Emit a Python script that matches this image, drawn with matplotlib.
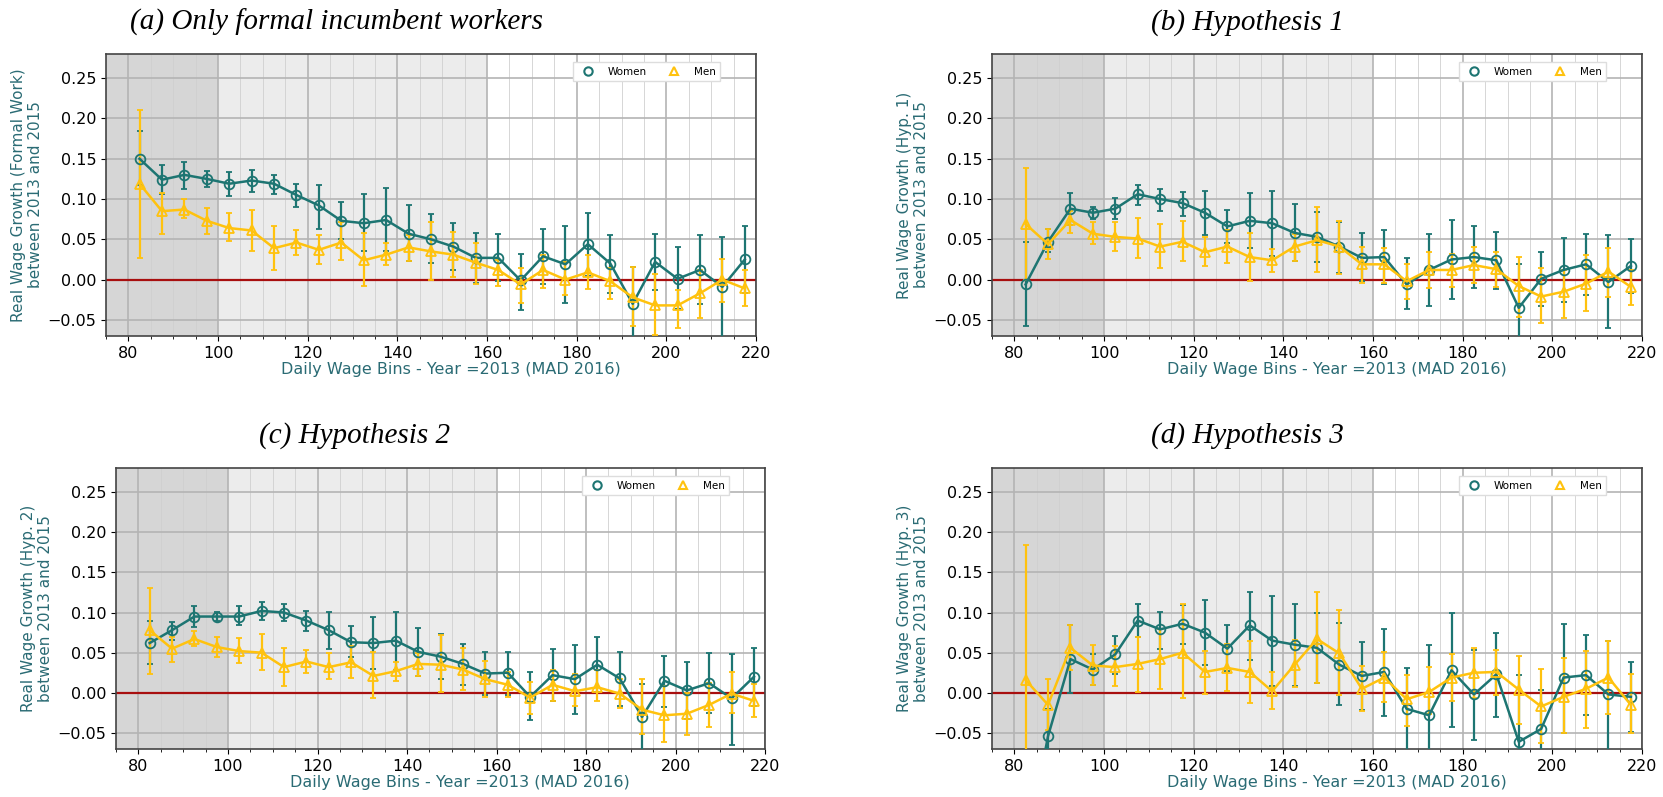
"""Real wage growth by daily wage bin, women vs men, four specifications."""

import numpy as np
import matplotlib.pyplot as plt
from matplotlib.lines import Line2D
from matplotlib.ticker import MultipleLocator

# bin centres (MAD 2016)
bins = [82.5, 87.5, 92.5, 97.5, 102.5, 107.5, 112.5, 117.5, 122.5, 127.5,
        132.5, 137.5, 142.5, 147.5, 152.5, 157.5, 162.5, 167.5, 172.5, 177.5,
        182.5, 187.5, 192.5, 197.5, 202.5, 207.5, 212.5, 217.5]

# (a) formal incumbent workers
a_women = [0.150, 0.124, 0.130, 0.125, 0.119, 0.123, 0.119, 0.105, 0.092, 0.073,
           0.070, 0.074, 0.057, 0.050, 0.041, 0.027, 0.027, -0.001, 0.029, 0.019,
           0.044, 0.020, -0.030, 0.022, 0.001, 0.012, -0.009, 0.025]
a_women_lo = [0.118, 0.106, 0.113, 0.115, 0.104, 0.109, 0.106, 0.090, 0.063, 0.050,
              0.035, 0.035, 0.023, 0.021, 0.012, -0.004, -0.002, -0.038, -0.005, -0.029,
              0.005, -0.016, -0.080, -0.013, -0.037, -0.030, -0.080, -0.017]
a_women_hi = [0.184, 0.142, 0.146, 0.135, 0.134, 0.136, 0.130, 0.119, 0.117, 0.096,
              0.106, 0.114, 0.092, 0.081, 0.070, 0.058, 0.057, 0.032, 0.063, 0.066,
              0.083, 0.056, 0.016, 0.057, 0.040, 0.055, 0.053, 0.067]
a_men = [0.119, 0.085, 0.087, 0.073, 0.064, 0.061, 0.039, 0.046, 0.037, 0.046,
         0.024, 0.031, 0.040, 0.035, 0.031, 0.021, 0.012, -0.006, 0.012, 0.000,
         0.009, -0.002, -0.022, -0.032, -0.032, -0.017, 0.000, -0.011]
a_men_lo = [0.027, 0.057, 0.076, 0.057, 0.048, 0.036, 0.012, 0.030, 0.019, 0.024,
            -0.008, 0.018, 0.023, 0.000, 0.003, -0.005, -0.008, -0.029, -0.011, -0.019,
            -0.012, -0.024, -0.058, -0.069, -0.060, -0.048, -0.028, -0.033]
a_men_hi = [0.211, 0.107, 0.100, 0.089, 0.083, 0.087, 0.066, 0.061, 0.056, 0.071,
            0.058, 0.045, 0.055, 0.072, 0.059, 0.046, 0.024, 0.015, 0.030, 0.022,
            0.030, 0.014, 0.016, 0.007, -0.013, 0.012, 0.026, 0.012]

# (b) hypothesis 1
b_women = [-0.006, 0.047, 0.088, 0.083, 0.088, 0.106, 0.100, 0.095, 0.083, 0.066,
           0.073, 0.070, 0.058, 0.053, 0.041, 0.027, 0.028, -0.006, 0.012, 0.025,
           0.028, 0.024, -0.035, 0.001, 0.012, 0.019, -0.003, 0.017]
b_women_lo = [-0.058, 0.034, 0.068, 0.075, 0.075, 0.093, 0.085, 0.079, 0.055, 0.045,
              0.039, 0.029, 0.023, 0.022, 0.008, -0.002, -0.005, -0.036, -0.033, -0.024,
              -0.010, -0.012, -0.090, -0.033, -0.028, -0.019, -0.060, -0.017]
b_women_hi = [0.047, 0.063, 0.108, 0.090, 0.101, 0.117, 0.112, 0.109, 0.110, 0.087,
              0.108, 0.110, 0.094, 0.084, 0.072, 0.058, 0.062, 0.027, 0.057, 0.074,
              0.067, 0.059, 0.019, 0.034, 0.052, 0.057, 0.056, 0.051]
b_men = [0.069, 0.044, 0.074, 0.057, 0.053, 0.051, 0.041, 0.047, 0.034, 0.041,
         0.028, 0.024, 0.041, 0.049, 0.041, 0.019, 0.019, -0.002, 0.012, 0.012,
         0.018, 0.013, -0.008, -0.021, -0.015, -0.005, 0.010, -0.009]
b_men_lo = [-0.001, 0.025, 0.058, 0.044, 0.036, 0.027, 0.015, 0.023, 0.017, 0.021,
            -0.002, 0.010, 0.023, 0.010, 0.007, -0.004, -0.004, -0.024, -0.011, -0.009,
            -0.004, -0.009, -0.046, -0.054, -0.048, -0.039, -0.022, -0.032]
b_men_hi = [0.139, 0.063, 0.085, 0.072, 0.071, 0.077, 0.069, 0.073, 0.053, 0.061,
            0.058, 0.038, 0.057, 0.090, 0.073, 0.041, 0.039, 0.019, 0.034, 0.032,
            0.040, 0.034, 0.028, 0.014, 0.012, 0.031, 0.039, 0.012]

# (c) hypothesis 2
c_women = [0.062, 0.078, 0.095, 0.095, 0.095, 0.102, 0.100, 0.090, 0.078, 0.063,
           0.062, 0.065, 0.051, 0.045, 0.036, 0.024, 0.025, -0.005, 0.022, 0.017,
           0.035, 0.018, -0.030, 0.015, 0.003, 0.012, -0.007, 0.020]
c_women_lo = [0.036, 0.066, 0.082, 0.090, 0.084, 0.091, 0.090, 0.077, 0.055, 0.044,
              0.030, 0.029, 0.021, 0.017, 0.010, -0.003, -0.003, -0.034, -0.010, -0.026,
              0.001, -0.016, -0.080, -0.018, -0.032, -0.025, -0.065, -0.017]
c_women_hi = [0.089, 0.088, 0.108, 0.101, 0.108, 0.113, 0.110, 0.102, 0.101, 0.083,
              0.094, 0.101, 0.081, 0.073, 0.061, 0.051, 0.051, 0.026, 0.054, 0.059,
              0.070, 0.051, 0.011, 0.046, 0.039, 0.049, 0.048, 0.056]
c_men = [0.078, 0.055, 0.067, 0.057, 0.052, 0.050, 0.032, 0.039, 0.032, 0.038,
         0.021, 0.027, 0.036, 0.035, 0.029, 0.017, 0.010, -0.006, 0.010, 0.002,
         0.007, -0.001, -0.021, -0.028, -0.026, -0.015, -0.001, -0.010]
c_men_lo = [0.024, 0.038, 0.058, 0.045, 0.037, 0.029, 0.009, 0.025, 0.017, 0.019,
            -0.007, 0.015, 0.021, 0.001, 0.003, -0.005, -0.005, -0.026, -0.010, -0.017,
            -0.010, -0.019, -0.051, -0.061, -0.053, -0.043, -0.025, -0.030]
c_men_hi = [0.131, 0.070, 0.077, 0.070, 0.068, 0.073, 0.056, 0.053, 0.049, 0.058,
            0.051, 0.039, 0.050, 0.072, 0.056, 0.040, 0.026, 0.014, 0.029, 0.023,
            0.028, 0.017, 0.017, 0.009, 0.000, 0.012, 0.026, 0.011]

# (d) hypothesis 3
d_women = [-0.200, -0.054, 0.042, 0.029, 0.048, 0.090, 0.079, 0.086, 0.075, 0.055,
           0.084, 0.065, 0.060, 0.056, 0.035, 0.021, 0.026, -0.020, -0.028, 0.028,
           -0.002, 0.023, -0.061, -0.045, 0.019, 0.022, -0.002, -0.005]
d_women_lo = [-0.250, -0.090, 0.000, 0.010, 0.024, 0.070, 0.055, 0.061, 0.035, 0.027,
              0.041, 0.009, 0.009, 0.012, -0.015, -0.022, -0.029, -0.080, -0.090, -0.043,
              -0.059, -0.030, -0.110, -0.090, -0.050, -0.028, -0.075, -0.049]
d_women_hi = [-0.150, -0.020, 0.084, 0.048, 0.071, 0.111, 0.101, 0.109, 0.115, 0.084,
              0.126, 0.121, 0.111, 0.100, 0.087, 0.063, 0.079, 0.031, 0.059, 0.099,
              0.053, 0.075, 0.022, 0.003, 0.086, 0.072, 0.064, 0.039]
d_men = [0.016, -0.015, 0.056, 0.034, 0.032, 0.036, 0.042, 0.050, 0.026, 0.031,
         0.026, 0.002, 0.035, 0.067, 0.049, 0.005, 0.019, -0.008, 0.001, 0.019,
         0.025, 0.026, 0.004, -0.017, -0.005, 0.005, 0.019, -0.015]
d_men_lo = [-0.152, -0.046, 0.029, 0.010, 0.008, 0.001, 0.005, -0.007, -0.001, 0.002,
            -0.013, -0.020, 0.007, 0.012, -0.003, -0.023, -0.012, -0.041, -0.026, -0.010,
            -0.006, -0.003, -0.039, -0.063, -0.050, -0.044, -0.026, -0.050]
d_men_hi = [0.184, 0.017, 0.084, 0.059, 0.058, 0.070, 0.079, 0.110, 0.052, 0.061,
            0.064, 0.026, 0.066, 0.125, 0.103, 0.033, 0.051, 0.022, 0.032, 0.048,
            0.056, 0.053, 0.046, 0.030, 0.043, 0.052, 0.064, 0.023]

panels = [
    ("(a) Only formal incumbent workers", "Formal Work",
     (a_women, a_women_lo, a_women_hi), (a_men, a_men_lo, a_men_hi)),
    ("(b) Hypothesis 1", "Hyp. 1",
     (b_women, b_women_lo, b_women_hi), (b_men, b_men_lo, b_men_hi)),
    ("(c) Hypothesis 2", "Hyp. 2",
     (c_women, c_women_lo, c_women_hi), (c_men, c_men_lo, c_men_hi)),
    ("(d) Hypothesis 3", "Hyp. 3",
     (d_women, d_women_lo, d_women_hi), (d_men, d_men_lo, d_men_hi)),
]

TEAL = "#1d7572"
GOLD = "#ffc20e"
LABEL = "#2a6b74"

axes_pos = [
    [0.0637, 0.5784, 0.3909, 0.3538],
    [0.5965, 0.5784, 0.3909, 0.3538],
    [0.0698, 0.0602, 0.3903, 0.3526],
    [0.5965, 0.0602, 0.3909, 0.3526],
]
title_pos = [(0.078, 0.972), (0.692, 0.972), (0.156, 0.454), (0.692, 0.454)]


def draw_series(ax, x, vals, color, marker):
    v, lo, hi = (np.array(s) for s in vals)
    ax.errorbar(x, v, yerr=[v - lo, hi - v], color=color, marker=marker,
                markersize=7, markerfacecolor="none", markeredgewidth=1.3,
                linewidth=1.8, elinewidth=1.6, capsize=2.5, capthick=1.3,
                zorder=3)


fig = plt.figure(figsize=(16.63, 7.97), dpi=100)

for (title, tag, women, men), pos, tpos in zip(panels, axes_pos, title_pos):
    ax = fig.add_axes(pos)
    ax.axvspan(0, 100, color="#d6d6d6", zorder=0, lw=0)
    ax.axvspan(100, 160, color="#ececec", zorder=0, lw=0)
    ax.set_axisbelow(True)
    ax.grid(which="major", color="#b4b4b4", linewidth=1.2)
    ax.grid(which="minor", axis="x", color="#d0d0d0", linewidth=0.6)
    ax.axhline(0, color="#a80f0f", linewidth=1.6, zorder=2)

    draw_series(ax, bins, women, TEAL, "o")
    draw_series(ax, bins, men, GOLD, "^")

    ax.set_xlim(75, 220)
    ax.set_ylim(-0.07, 0.28)
    ax.xaxis.set_major_locator(MultipleLocator(20))
    ax.xaxis.set_minor_locator(MultipleLocator(5))
    ax.yaxis.set_major_locator(MultipleLocator(0.05))
    ax.tick_params(labelsize=11.5)
    for sp in ax.spines.values():
        sp.set_color("#444444")
        sp.set_linewidth(1.2)

    ax.set_xlabel("Daily Wage Bins - Year =2013 (MAD 2016)", color=LABEL,
                  fontsize=11.5, labelpad=1, x=0.53)
    ax.set_ylabel(f"Real Wage Growth ({tag})\nbetween 2013 and 2015",
                  color=LABEL, fontsize=11, labelpad=3)

    handles = [
        Line2D([], [], linestyle="none", marker="o", markersize=6,
               markerfacecolor="none", markeredgecolor=TEAL, markeredgewidth=1.5),
        Line2D([], [], linestyle="none", marker="^", markersize=6,
               markerfacecolor="none", markeredgecolor=GOLD, markeredgewidth=1.5),
    ]
    ax.legend(handles, ["Women", "Men"], ncol=2, fontsize=7.5,
              loc="upper right", bbox_to_anchor=(0.953, 0.99),
              columnspacing=1.6, handletextpad=0.9, framealpha=1,
              fancybox=False, edgecolor="#dddddd", borderpad=0.45)

    fig.text(tpos[0], tpos[1], title, fontsize=21, style="italic",
             family="Liberation Serif", ha="left", va="center")

fig.savefig("out.png", dpi=100)
